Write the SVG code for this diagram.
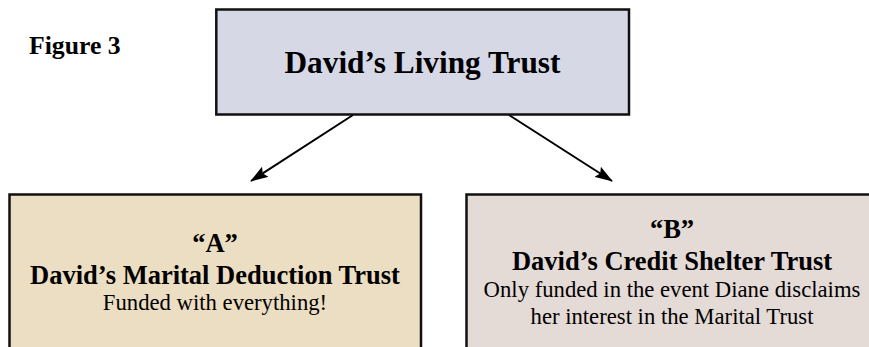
<svg xmlns="http://www.w3.org/2000/svg" width="869" height="347" viewBox="0 0 869 347">
  <style>
    .box { stroke: #111; stroke-width: 2.5; }
    .t { font-family: "Liberation Serif", "Times New Roman", serif; fill: #000; text-anchor: middle; }
    .b { font-weight: bold; font-size: 26.5px; }
    .r { font-size: 22.7px; }
    .conn { stroke: #000; stroke-width: 2; fill: none; }
  </style>
  <defs>
    <marker id="arrow" viewBox="0 0 18 12" refX="17" refY="6" markerWidth="18" markerHeight="12" markerUnits="userSpaceOnUse" orient="auto">
      <path d="M0,0 L18,6 L0,12 L3,6 Z" fill="#000"/>
    </marker>
  </defs>
  <rect width="869" height="347" fill="#fff"/>
  <text x="29" y="54" font-family="Liberation Serif, serif" font-weight="bold" font-size="25.7px">Figure 3</text>

  <g id="connectors">
    <line class="conn" x1="353" y1="115" x2="251" y2="181" marker-end="url(#arrow)"/>
    <line class="conn" x1="509" y1="115" x2="612" y2="181" marker-end="url(#arrow)"/>
  </g>

  <g id="living-trust">
    <rect class="box" x="216.3" y="9.5" width="412.7" height="105" fill="#d6d8e6"/>
    <text class="t" x="422.5" y="72.7" font-weight="bold" font-size="31.3px">David’s Living Trust</text>
  </g>

  <g id="trust-a">
    <rect class="box" x="9.5" y="194.5" width="411.5" height="200" fill="#ecdec2"/>
    <text class="t b" x="215" y="251.7">“A”</text>
    <text class="t b" x="215" y="284">David’s Marital Deduction Trust</text>
    <text class="t r" x="215" y="310">Funded with everything!</text>
  </g>

  <g id="trust-b">
    <rect class="box" x="466.5" y="194.5" width="412" height="200" fill="#e4dad6"/>
    <text class="t b" x="672" y="238">“B”</text>
    <text class="t b" x="672" y="270">David’s Credit Shelter Trust</text>
    <text class="t r" x="672" y="297">Only funded in the event Diane disclaims</text>
    <text class="t r" x="672" y="324">her interest in the Marital Trust</text>
  </g>
</svg>
